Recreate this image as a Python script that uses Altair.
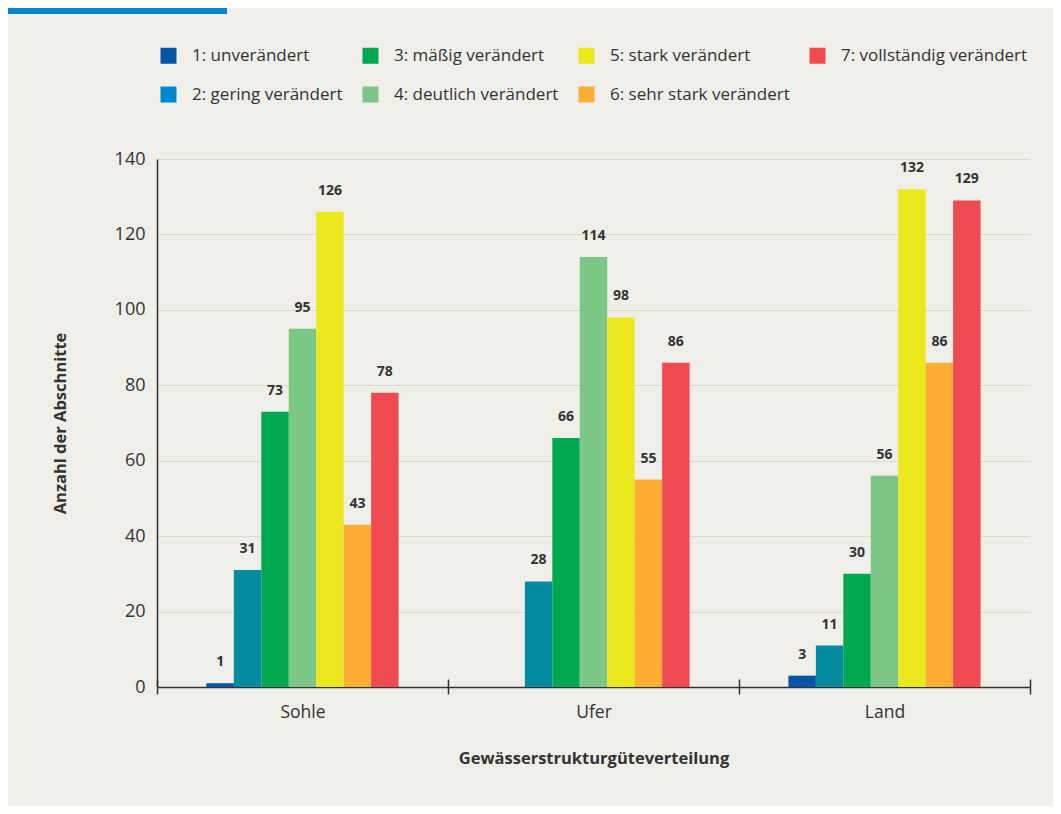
import altair as alt
import pandas as pd

groups = ["Sohle", "Ufer", "Land"]
classes = ["1", "2", "3", "4", "5", "6", "7"]
class_labels = [
    "1: unverändert",
    "2: gering verändert",
    "3: mäßig verändert",
    "4: deutlich verändert",
    "5: stark verändert",
    "6: sehr stark verändert",
    "7: vollständig verändert",
]
sohle = [1, 31, 73, 95, 126, 43, 78]
ufer = [0, 28, 66, 114, 98, 55, 86]
land = [3, 11, 30, 56, 132, 86, 129]
bar_colors = ["#0555A5", "#058BA0", "#00A84F", "#7DC786", "#EBE81E", "#FBAE33", "#EF4A50"]
legend_colors = ["#0555A5", "#0088CE", "#00A84F", "#7DC786", "#EBE81E", "#FBAE33", "#EF4A50"]
y_ticks = [0, 20, 40, 60, 80, 100, 120, 140]

FONT = "Open Sans"
TXT = "#333333"
BG = "#EFEEE9"

rows = []
for g, vals in zip(groups, [sohle, ufer, land]):
    for c, lab, v in zip(classes, class_labels, vals):
        rows.append({"group": g, "cls": c, "label": lab, "value": v})
df = pd.DataFrame(rows)

# empty slots on both sides of each group of bars
off_domain = ["_a"] + classes + ["_b"]

base = alt.Chart(df)

x_scale = alt.Scale(domain=groups, paddingInner=0, paddingOuter=0)
xoff = alt.XOffset("cls:N",
                   scale=alt.Scale(domain=off_domain, paddingInner=0, paddingOuter=0.8))
y_enc = alt.Y(
    "value:Q",
    scale=alt.Scale(domain=[0, 140], nice=False),
    axis=alt.Axis(
        values=y_ticks, title="Anzahl der Abschnitte", grid=True,
        gridColor="#DAD9CE", gridWidth=1, ticks=False, domain=True,
        domainColor=TXT, domainWidth=1.5, labelFont=FONT, labelFontSize=18,
        labelColor=TXT, labelPadding=12, titleFont=FONT, titleFontSize=16.5,
        titleFontWeight="bold", titleColor=TXT, titleAngle=-90,
        titleX=-97, titleY=264, titleAlign="center", titleBaseline="middle",
    ),
)

bars = base.mark_bar().encode(
    x=alt.X(
        "group:N", sort=groups, scale=x_scale,
        axis=alt.Axis(
            title="Gewässerstrukturgüteverteilung", labelAngle=0,
            tickBand="extent", ticks=True, tickSize=7, tickColor=TXT,
            tickWidth=1.5, domainColor=TXT, domainWidth=1.5, grid=False,
            labelFont=FONT, labelFontSize=17.5, labelColor=TXT, labelPadding=9,
            titleFont=FONT, titleFontSize=16.5, titleFontWeight="bold",
            titleColor=TXT, titleY=71, titleBaseline="middle",
        ),
    ),
    xOffset=xoff,
    y=y_enc,
    color=alt.Color("cls:N", scale=alt.Scale(domain=classes, range=bar_colors), legend=None),
)

upticks = base.mark_bar(opacity=0).encode(
    x=alt.X(
        "group:N", sort=groups, scale=x_scale,
        axis=alt.Axis(
            orient="top", offset=-528, title=None, labels=False, domain=False,
            grid=False, ticks=True, tickBand="extent", tickSize=8,
            tickColor=TXT, tickWidth=1.5,
        ),
    ),
    xOffset=xoff,
    y=y_enc,
)

labels = base.mark_text(
    font=FONT, fontSize=14, fontWeight="bold", color=TXT,
    baseline="alphabetic", dy=-17,
).encode(
    x=alt.X("group:N", sort=groups, scale=x_scale, axis=None),
    xOffset=xoff,
    y=y_enc,
    text=alt.Text("value:Q"),
).transform_filter(alt.datum.value > 0)

legend_layer = base.mark_square(opacity=0, size=1).encode(
    color=alt.Color(
        "label:N",
        scale=alt.Scale(domain=class_labels, range=legend_colors),
        legend=alt.Legend(
            title=None, orient="none", legendX=3, legendY=-112, columns=4,
            symbolType="square", symbolSize=256, symbolOpacity=1,
            symbolStrokeWidth=0, labelFont=FONT, labelFontSize=17,
            labelColor=TXT, labelOffset=15, rowPadding=21, columnPadding=19,
            padding=0, labelLimit=400,
        ),
    ),
)

deco = alt.Chart(pd.DataFrame({"d": [0]})).mark_rect(color="#0088CE").encode(
    x=alt.value(-149), x2=alt.value(70), y=alt.value(-151), y2=alt.value(-145)
)

chart = (
    alt.layer(bars, upticks, labels, legend_layer, deco)
    .resolve_scale(color="independent")
    .resolve_axis(x="independent")
    .properties(
        width=873, height=528, background=BG,
        padding={"left": 149, "top": 151, "right": 23, "bottom": 119},
        autosize=alt.AutoSizeParams(type="none"),
    )
    .configure_view(stroke=None)
)

chart.save("out.html", embed_options={"renderer": "svg", "actions": False})
